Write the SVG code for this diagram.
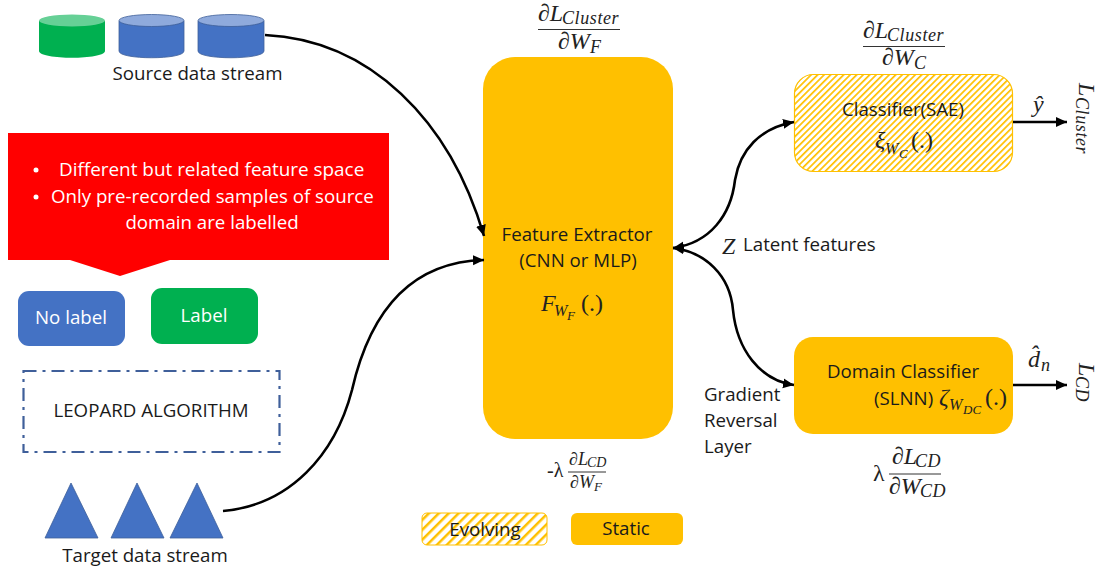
<svg xmlns="http://www.w3.org/2000/svg" width="1098" height="572" viewBox="0 0 1098 572">
<style>
text{font-family:"Open Sans","Noto Sans","Liberation Sans",sans-serif;font-size:18.700px;fill:#1a1a1a}
.w{fill:#fff}
.m{font-family:"Liberation Serif","DejaVu Serif",serif;font-style:italic;font-size:24px;fill:#222}
.s{font-size:18px;letter-spacing:.6px}
.t{font-size:13px}
.n{font-style:normal}
.c{text-anchor:middle}
.v{writing-mode:vertical-rl}
.conn{fill:none;stroke:#000;stroke-width:2.600}
.rule{stroke:#333;stroke-width:1}
.blue{fill:#4472c4;stroke:#3f6099;stroke-width:.8}
.bluetop{fill:#8faadc;stroke:#3f6099;stroke-width:.8}
.green{fill:#00b050}
.greentop{fill:#66d096}
.static{fill:#ffc000}
.evolve{fill:url(#hatch);stroke:#ffc000;stroke-width:1.200}
</style>
<defs>
<pattern id="hatch" patternUnits="userSpaceOnUse" width="4.600" height="4.600" patternTransform="rotate(-45)">
<rect width="4.600" height="4.600" fill="#fff"/><rect width="4.600" height="1.700" fill="#ffc000"/>
</pattern>
<pattern id="hatchw" patternUnits="userSpaceOnUse" width="7" height="7" patternTransform="rotate(-45)">
<rect width="7" height="7" fill="#fff"/><rect width="7" height="2.500" fill="#ffc000"/>
</pattern>
<marker id="arr" markerUnits="userSpaceOnUse" markerWidth="12" markerHeight="12" refX="11" refY="6" orient="auto-start-reverse"><path d="M0,1 L11,6 L0,11 Z" fill="#000"/></marker>
</defs>

<g id="source-stream">
<path class="green" d="M39,21 V51 C39,60 105,60 105,51 V21 Z"/><ellipse class="greentop" cx="72" cy="20.500" rx="33" ry="6"/>
<path class="blue" d="M119,21 V51 C119,60 184,60 184,51 V21 Z"/><ellipse class="bluetop" cx="151.500" cy="20.500" rx="32.500" ry="6"/>
<path class="blue" d="M198,21 V51 C198,60 264,60 264,51 V21 Z"/><ellipse class="bluetop" cx="231" cy="20.500" rx="33" ry="6"/>
<text x="197.500" y="80" class="c">Source data stream</text>
</g>

<g id="callout">
<path d="M8,133 H389 V260 H170 L120,276 L70,260 H8 Z" fill="#ff0000"/>
<circle cx="36" cy="170" r="2.500" fill="#fff"/><circle cx="36" cy="197" r="2.500" fill="#fff"/>
<text x="59" y="176" class="w" style="font-size:18.900px">Different but related feature space</text>
<text x="51" y="203" class="w">Only pre-recorded samples of source</text>
<text x="212" y="229" class="w c">domain are labelled</text>
</g>

<g id="no-label"><rect x="18" y="291" width="107" height="55" rx="11" fill="#4472c4"/><text x="71" y="324" class="w c">No label</text></g>
<g id="label"><rect x="151" y="288" width="107" height="56" rx="11" fill="#00b050"/><text x="204" y="322" class="w c">Label</text></g>

<g id="leopard"><rect x="23.500" y="371" width="256" height="81" fill="none" stroke="#3f5f9a" stroke-width="2.200" stroke-dasharray="13 6 3 6"/><text x="151" y="417" class="c">LEOPARD ALGORITHM</text></g>

<g id="target-stream">
<path class="blue" d="M71,483 L98,538 H45 Z"/>
<path class="blue" d="M137,483 L164,538 H111 Z"/>
<path class="blue" d="M197,483 L223,538 H170 Z"/>
<text x="145" y="562" class="c">Target data stream</text>
</g>

<g id="feature-extractor">
<rect x="483" y="57" width="190" height="382" rx="32" class="static"/>
<text x="577" y="241" class="c">Feature Extractor</text>
<text x="578" y="267" class="c">(CNN or MLP)</text>
<text x="541" y="311" class="m">F</text><text x="554" y="316" class="m" style="font-size:16px">W</text><text x="567" y="320" class="m t">F</text><text x="581" y="311" class="m n">(.)</text>
</g>

<g id="classifier">
<rect x="794.500" y="74.500" width="218" height="97" rx="19" class="evolve"/>
<text x="903" y="116" class="c">Classifier(SAE)</text>
<text x="875" y="148" class="m">ξ</text><text x="885" y="154" class="m" style="font-size:16px">W</text><text x="899" y="158" class="m t">C</text><text x="911" y="148" class="m n">(.)</text>
</g>

<g id="domain-classifier">
<rect x="794" y="337" width="219" height="97" rx="19" class="static"/>
<text x="903" y="378" class="c">Domain Classifier</text>
<text x="874" y="405">(SLNN)</text>
<text x="939" y="405" class="m">ζ</text><text x="949" y="410" class="m" style="font-size:16px">W</text><text x="963" y="414" class="m t">DC</text><text x="985" y="405" class="m n">(.)</text>
</g>

<g id="connectors">
<path class="conn" marker-end="url(#arr)" d="M265,35 C370,40 450,120 484,236"/>
<path class="conn" marker-end="url(#arr)" d="M223,511 C290,505 335,455 352,390 C368,320 405,262 484,260"/>
<path class="conn" marker-start="url(#arr)" marker-end="url(#arr)" d="M794,122 C760,128 740,150 735,180 C731,215 710,243 673,248"/>
<path class="conn" marker-start="url(#arr)" marker-end="url(#arr)" d="M673,248 C705,252 730,275 733,310 C737,350 760,380 794,385"/>
<path class="conn" marker-end="url(#arr)" d="M1013,122 L1067,122"/>
<path class="conn" marker-end="url(#arr)" d="M1013,385 L1067,385"/>
</g>

<g id="grad-f">
<text x="538" y="21" class="m">∂L</text><text x="562" y="24" class="m s">Cluster</text>
<line class="rule" x1="538" y1="29.500" x2="620" y2="29.500"/>
<text x="558" y="49" class="m">∂W</text><text x="590" y="53" class="m s">F</text>
</g>
<g id="grad-c">
<text x="863" y="38" class="m">∂L</text><text x="887" y="41" class="m s">Cluster</text>
<line class="rule" x1="863" y1="46.500" x2="945" y2="46.500"/>
<text x="882" y="65" class="m">∂W</text><text x="914" y="69" class="m s">C</text>
</g>
<g id="grad-cd">
<text x="873" y="481" class="m n">λ</text>
<text x="892" y="464" class="m">∂L</text><text x="915" y="467" class="m s">CD</text>
<line class="rule" x1="889" y1="474" x2="941" y2="474"/>
<text x="889" y="494" class="m">∂W</text><text x="920" y="497" class="m s">CD</text>
</g>
<g id="grad-f-cd">
<text x="547" y="477" class="m n" style="font-size:20px">-λ</text>
<text x="569" y="465" class="m" style="font-size:18px">∂L</text><text x="587" y="467" class="m" style="font-size:14px">CD</text>
<line class="rule" x1="568" y1="472" x2="606" y2="472"/>
<text x="570" y="488" class="m" style="font-size:18px">∂W</text><text x="594" y="491" class="m" style="font-size:13px">F</text>
</g>

<g id="outputs">
<text x="1033" y="112" class="m">ŷ</text>
<text x="1028" y="367" class="m">d̂</text><text x="1041" y="371" class="m s">n</text>
<text x="1087" y="83" class="m v">L</text>
<text x="1082" y="97" class="m s v">Cluster</text>
<text x="1087" y="363" class="m v">L</text>
<text x="1082" y="376" class="m s v">CD</text>
</g>

<g id="latent"><text x="722" y="254" class="m">Z</text><text x="743" y="251">Latent features</text></g>
<g id="grl"><text x="704" y="401">Gradient</text><text x="704" y="427">Reversal</text><text x="704" y="453">Layer</text></g>

<g id="legend-evolving"><rect x="422" y="513" width="125" height="32" rx="5" fill="url(#hatchw)" stroke="#ffc000" stroke-width="1"/><text x="485" y="536" class="c">Evolving</text></g>
<g id="legend-static"><rect x="571" y="513" width="112" height="32" rx="6" class="static"/><text x="626" y="535" class="c">Static</text></g>
</svg>
